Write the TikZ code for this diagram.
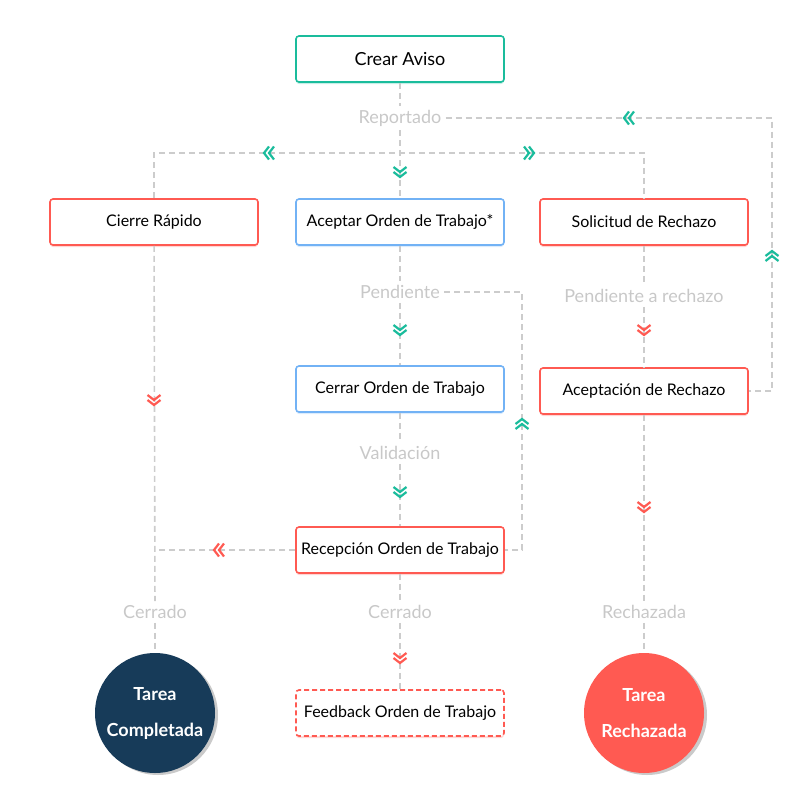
\documentclass[tikz,border=0pt]{standalone}
\usepackage{fontspec}
\setmainfont{Lato}
\usetikzlibrary{shadows}
\definecolor{cteal}{HTML}{1ABC9C}
\definecolor{cred}{HTML}{FF5A52}
\definecolor{cblue}{HTML}{72B2F5}
\definecolor{cnavy}{HTML}{173B59}
\definecolor{cline}{HTML}{CCCCCC}
\definecolor{clabel}{HTML}{C8C8C8}
\begin{document}
\begin{tikzpicture}[x=1pt,y=-1pt,
  box/.style={draw, line width=1.6pt, rounded corners=3pt, fill=white,
    minimum width=208pt, minimum height=46pt, inner sep=0pt,
    font=\fontsize{16}{19}\selectfont},
  tealbox/.style={box, draw=cteal, drop shadow={opacity=0.25, fill=cteal, shadow xshift=0pt, shadow yshift=-2pt}},
  redbox/.style={box, draw=cred, drop shadow={opacity=0.25, fill=cred, shadow xshift=0pt, shadow yshift=-2pt}},
  bluebox/.style={box, draw=cblue, drop shadow={opacity=0.25, fill=cblue, shadow xshift=0pt, shadow yshift=-2pt}},
  dashbox/.style={box, draw=cred, dash pattern=on 5pt off 3pt, drop shadow={opacity=0.25, fill=cred, shadow xshift=0pt, shadow yshift=-2pt}},
  endcirc/.style={circle, minimum size=120pt, inner sep=0pt, text=white, align=center,
    font=\bfseries\fontsize{18}{36}\selectfont,
    drop shadow={opacity=0.35, fill=black!60, shadow xshift=3pt, shadow yshift=-2pt}},
  lbl/.style={text=clabel, font=\fontsize{18}{21}\selectfont, inner sep=4pt},
  conn/.style={draw=cline, line width=1.6pt, dash pattern=on 6pt off 4pt},
  chev/.pic={
    \draw[line width=2.2pt, line join=miter, pic actions]
      (-6.5,-6)--(0,-1)--(6.5,-6) (-6.5,-1)--(0,4)--(6.5,-1);
  },
]
\useasboundingbox (0,0) rectangle (800,800);

% nodes
\node[tealbox, font=\fontsize{18}{21}\selectfont] (ca) at (400,59) {Crear Aviso};
\node[redbox] (cr) at (154,222) {Cierre Rápido};
\node[bluebox] (aot) at (400,222) {Aceptar Orden de Trabajo*};
\node[redbox] (sr) at (644,222) {Solicitud de Rechazo};
\node[bluebox] (cot) at (400,389) {Cerrar Orden de Trabajo};
\node[redbox] (ar) at (644,391) {Aceptación de Rechazo};
\node[redbox] (ro) at (400,550) {Recepción Orden de Trabajo};
\node[dashbox] (fo) at (400,713) {Feedback Orden de Trabajo};
\node[endcirc, fill=cnavy] (tc) at (155,713) {Tarea\\Completada};
\node[endcirc, fill=cred] (tr) at (644,713) {Tarea\\Rechazada};

% labels
\node[lbl] (rep) at (400,118) {Reportado};
\node[lbl] (pen) at (400,292) {Pendiente};
\node[lbl] (par) at (644,296) {Pendiente a rechazo};
\node[lbl] (val) at (400,453) {Validación};
\node[lbl] (ce1) at (155,612) {Cerrado};
\node[lbl] (ce2) at (400,612) {Cerrado};
\node[lbl] (rec) at (644,612) {Rechazada};

% coordinates
\coordinate (hl) at (154,153);
\coordinate (hr) at (644,153);
\coordinate (tr1) at (772,118);
\coordinate (tr2) at (772,391);
\coordinate (pr1) at (522,292);
\coordinate (pr2) at (522,550);
\coordinate (jl) at (154,550);

% connectors
\draw[conn] (ca) -- (rep);
\draw[conn] (rep) -- (aot);
\draw[conn] (cr.north) -- (hl) -- (hr) -- (sr.north);
\draw[conn] (rep.east) -- (tr1) -- (tr2) -- (ar.east);
\draw[conn] (aot) -- (pen);
\draw[conn] (pen) -- (cot);
\draw[conn] (pen.east) -- (pr1) -- (pr2) -- (ro.east);
\draw[conn] (cot) -- (val);
\draw[conn] (val) -- (ro);
\draw[conn] (ro.west) -- (jl);
\draw[conn] (cr) -- (ce1);
\draw[conn] (ce1) -- (tc);
\draw[conn] (ro) -- (ce2);
\draw[conn] (ce2) -- (fo);
\draw[conn] (sr) -- (par);
\draw[conn] (par) -- (ar);
\draw[conn] (ar) -- (rec);
\draw[conn] (rec) -- (tr);

% chevrons
\pic[draw=cteal] at (400,173) {chev};
\pic[draw=cteal, rotate=-90] at (268,153) {chev};
\pic[draw=cteal, rotate=90] at (530,153) {chev};
\pic[draw=cteal, rotate=-90] at (628,118) {chev};
\pic[draw=cteal, rotate=180] at (772,255) {chev};
\pic[draw=cteal] at (400,331) {chev};
\pic[draw=cteal, rotate=180] at (522,423) {chev};
\pic[draw=cteal] at (400,493) {chev};
\pic[draw=cred] at (644,331) {chev};
\pic[draw=cred] at (154,401) {chev};
\pic[draw=cred, rotate=-90] at (218,550) {chev};
\pic[draw=cred] at (400,659) {chev};
\pic[draw=cred] at (644,508) {chev};
\end{tikzpicture}
\end{document}
